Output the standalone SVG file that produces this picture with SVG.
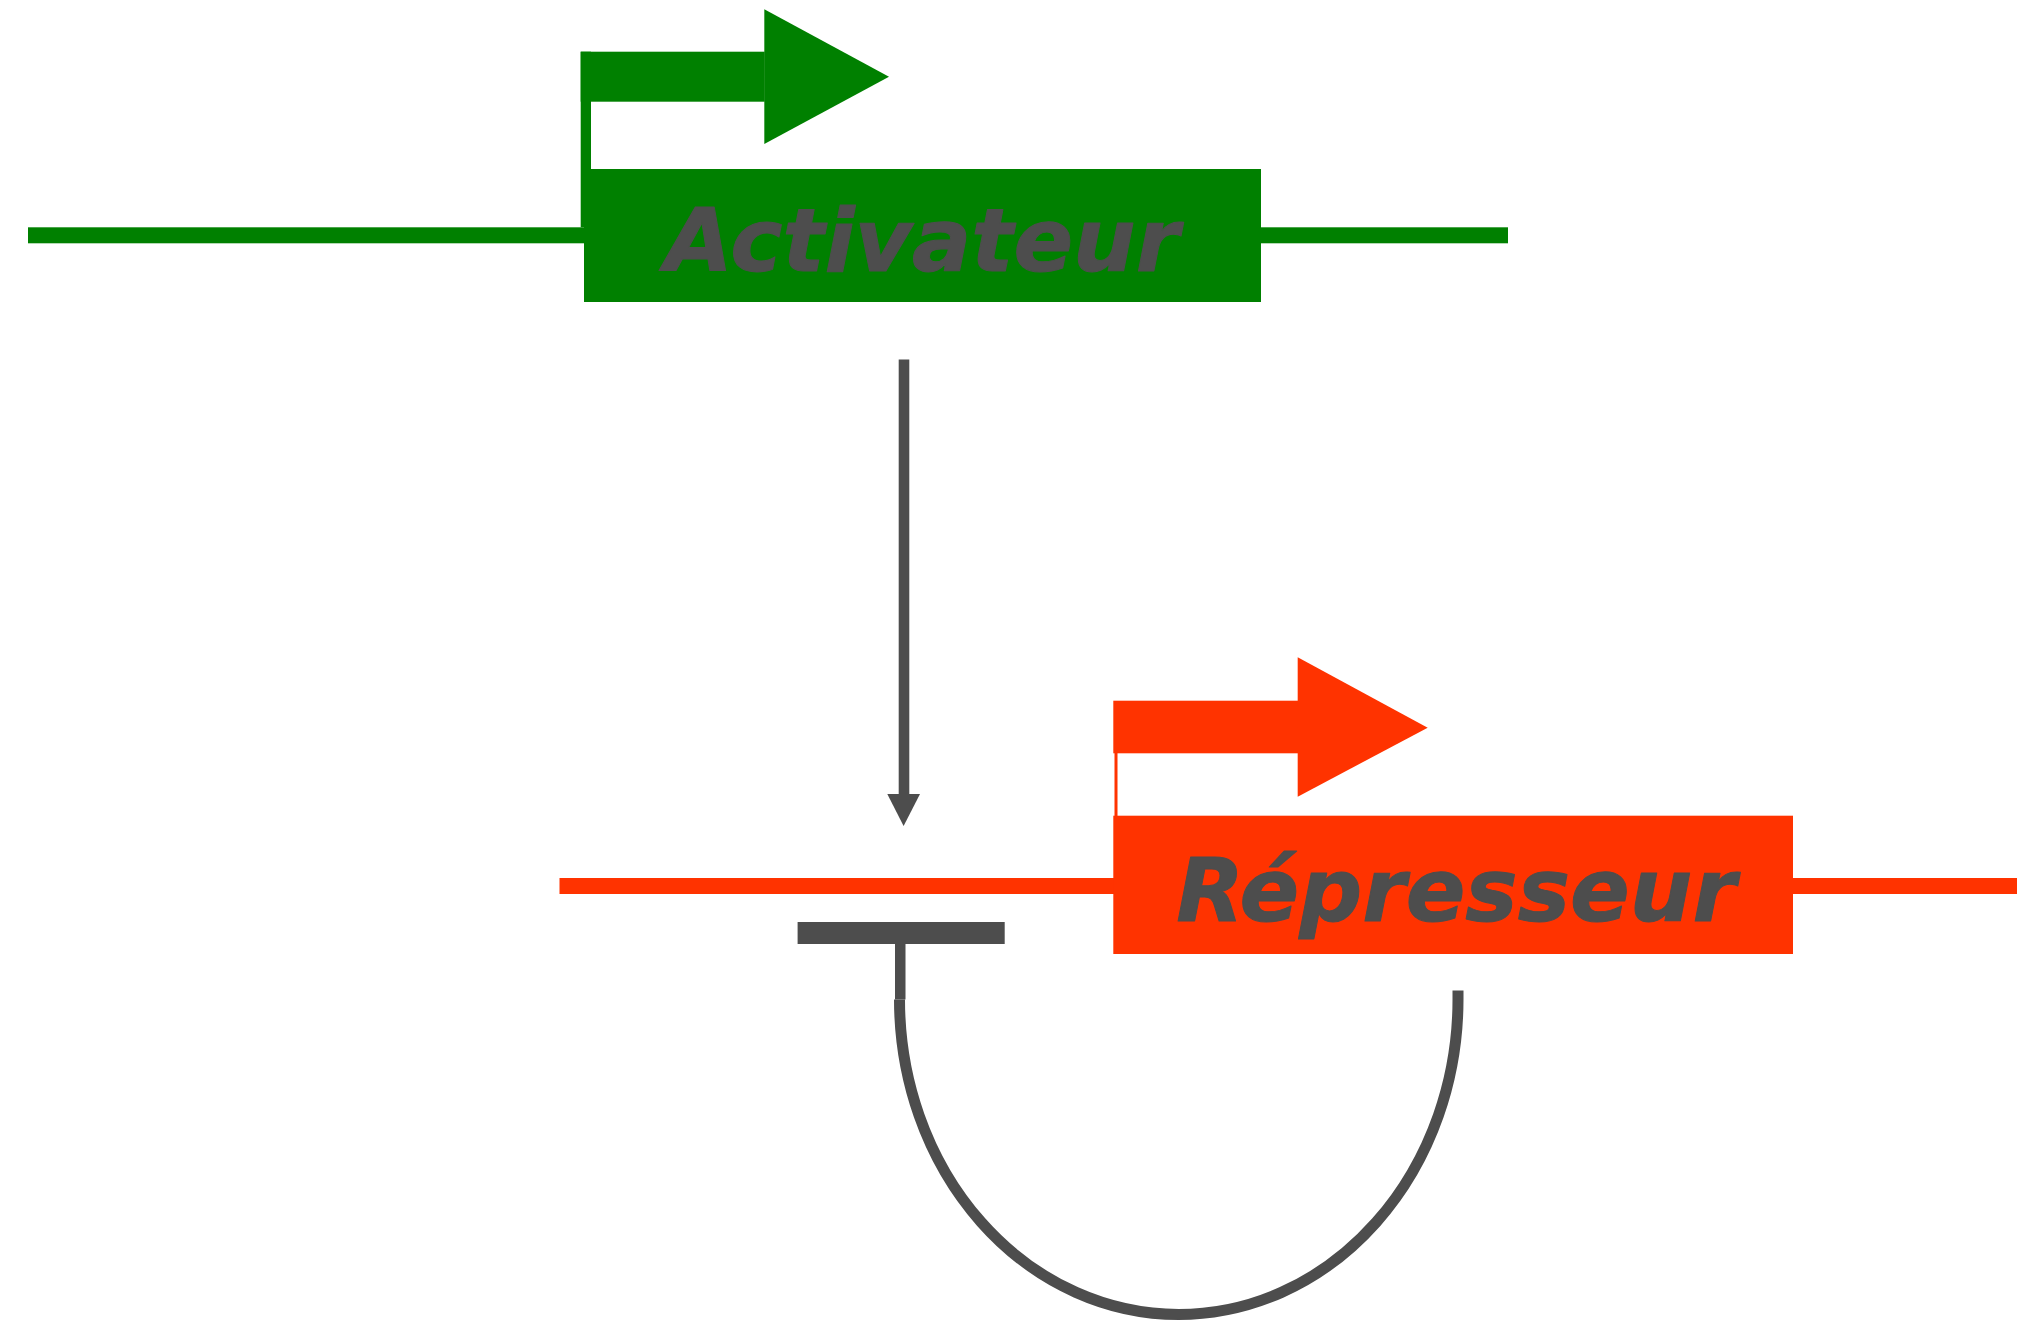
<svg xmlns="http://www.w3.org/2000/svg" width="2017" height="1320" viewBox="0 0 2017 1320">
  <style>
    .act { fill: #008000; }
    .rep { fill: #ff3300; }
    .label { font-family: "DejaVu Sans", "Liberation Sans", sans-serif; font-weight: bold; font-style: oblique; font-size: 88px; fill: #4d4d4d; stroke: #4d4d4d; stroke-width: 1; stroke-linejoin: round; text-anchor: middle; }
    .link { stroke: #4d4d4d; fill: none; }
    .ink { fill: #4d4d4d; }
  </style>

  <rect width="2017" height="1320" fill="#ffffff"/>

  <!-- activator gene with its promoter -->
  <g id="activateur">
    <rect class="act" x="28" y="227.3" width="1480" height="16"/>
    <rect class="act" x="580.7" y="51.7" width="10.3" height="175.6"/>
    <rect class="act" x="580.7" y="51.7" width="184" height="50"/>
    <polygon class="act" points="764.3,9.3 889,76.7 764.3,144"/>
    <rect class="act" x="584" y="169" width="677" height="133"/>
    <text class="label" x="922" y="271">Activateur</text>
  </g>

  <!-- repressor gene with its promoter -->
  <g id="represseur">
    <rect class="rep" x="559.5" y="878" width="1458" height="16"/>
    <rect class="rep" x="1113.3" y="700.7" width="184.7" height="52.6"/>
    <polygon class="rep" points="1297.7,657.3 1427.7,727.7 1297.7,796.7"/>
    <rect class="rep" x="1114.5" y="753" width="3" height="63"/>
    <rect class="rep" x="1113.3" y="815.7" width="679.7" height="138.3"/>
    <text class="label" x="1456" y="921">Répresseur</text>
  </g>

  <!-- regulatory links -->
  <g id="connecteurs">
    <!-- activation -->
    <line class="link" x1="904" y1="359.5" x2="904" y2="794" stroke-width="10.6"/>
    <polygon class="ink" points="887.3,794 920,794 903.6,826"/>
    <!-- repression feedback -->
    <rect class="ink" x="797.6" y="922" width="207.1" height="22"/>
    <rect class="ink" x="895" y="944" width="10.5" height="55.5"/>
    <path class="link" stroke-width="11" d="M899.5 999.5 A279.25 315 0 0 0 1458 999.5 L1458 990.5"/>
  </g>
</svg>
